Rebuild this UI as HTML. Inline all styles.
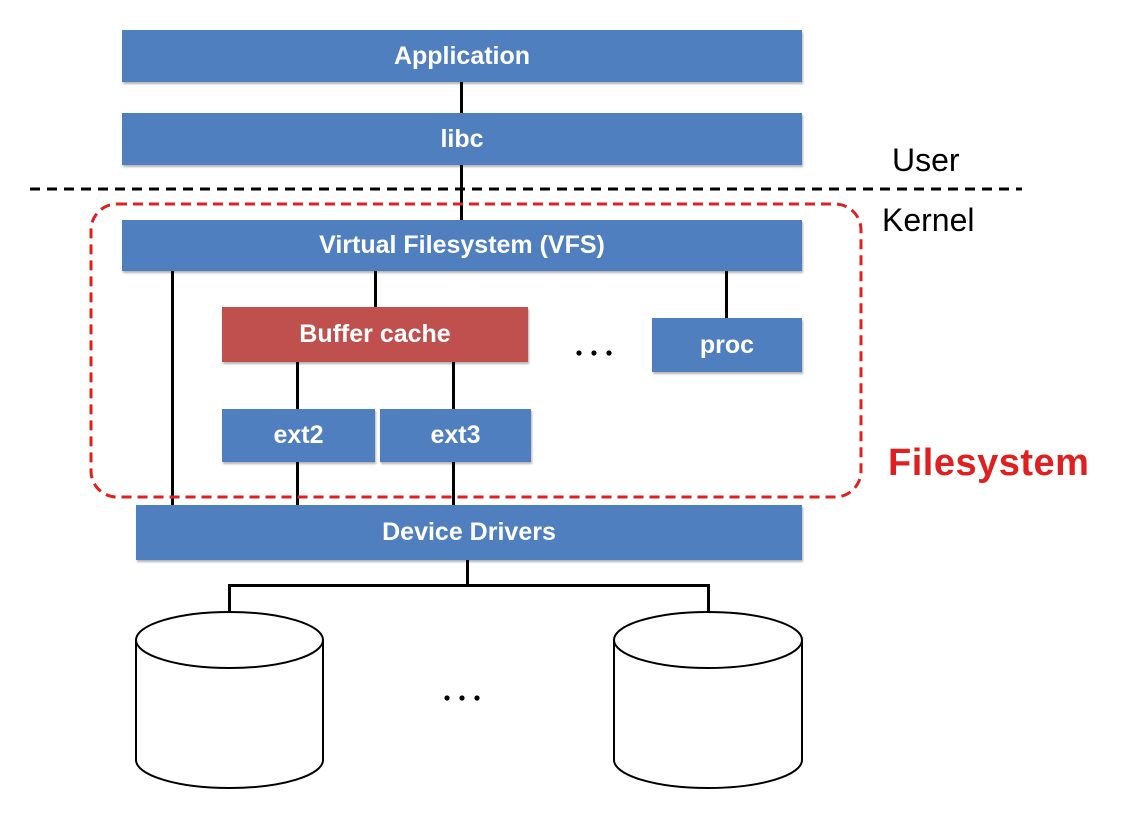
<!DOCTYPE html>
<html><head><style>
body{margin:0;width:1132px;height:822px;background:#fff;position:relative;overflow:hidden;font-family:"Liberation Sans",sans-serif}
.b{position:absolute;background:#4f7fbf;color:#fff;font-weight:bold;font-size:25px;display:flex;align-items:center;justify-content:center;box-shadow:1px 2px 2px rgba(0,0,0,.3)}
.l{position:absolute;background:#000}
</style></head><body>
<div class="l" style="left:460px;top:82px;width:3px;height:138px"></div>
<div class="l" style="left:171px;top:271px;width:3px;height:234px"></div>
<div class="l" style="left:374px;top:271px;width:3px;height:36px"></div>
<div class="l" style="left:725px;top:271px;width:3px;height:47px"></div>
<div class="l" style="left:296px;top:362px;width:3px;height:143px"></div>
<div class="l" style="left:452px;top:362px;width:3px;height:143px"></div>
<div class="l" style="left:466px;top:560px;width:3px;height:26px"></div>
<div class="l" style="left:228px;top:584px;width:482px;height:3px"></div>
<div class="l" style="left:228px;top:584px;width:3px;height:30px"></div>
<div class="l" style="left:707px;top:584px;width:3px;height:30px"></div>
<svg style="position:absolute;left:0;top:0" width="1132" height="822">
<line x1="30" y1="189" x2="1022" y2="189" stroke="#000" stroke-width="3" stroke-dasharray="10,7"/>
<rect x="91" y="204" width="770" height="293" rx="26" fill="none" stroke="#e02020" stroke-width="3" stroke-dasharray="10,6"/>
<g fill="#fff" stroke="#000" stroke-width="2">
<path d="M136 640 L136 760 A93.5 28 0 0 0 323 760 L323 640"/>
<ellipse cx="229.5" cy="640" rx="93.5" ry="28"/>
<path d="M614 640 L614 760 A94 28 0 0 0 802 760 L802 640"/>
<ellipse cx="708" cy="640" rx="94" ry="28"/>
</g>
<g fill="#000"><circle cx="579" cy="353" r="2.6"/><circle cx="594" cy="353" r="2.6"/><circle cx="609" cy="353" r="2.6"/>
<circle cx="447" cy="698" r="2.6"/><circle cx="462" cy="698" r="2.6"/><circle cx="477" cy="698" r="2.6"/></g>
</svg>
<div class="b" style="left:122px;top:30px;width:680px;height:52px">Application</div>
<div class="b" style="left:122px;top:113px;width:680px;height:52px">libc</div>
<div class="b" style="left:122px;top:220px;width:680px;height:51px">Virtual Filesystem (VFS)</div>
<div class="b" style="left:222px;top:307px;width:306px;height:55px;background:#c0504d">Buffer cache</div>
<div class="b" style="left:222px;top:409px;width:153px;height:53px">ext2</div>
<div class="b" style="left:380px;top:409px;width:151px;height:53px">ext3</div>
<div class="b" style="left:652px;top:318px;width:150px;height:54px">proc</div>
<div class="b" style="left:136px;top:505px;width:666px;height:55px">Device Drivers</div>
<div style="position:absolute;left:892px;top:142px;font-size:32px">User</div>
<div style="position:absolute;left:882px;top:202px;font-size:32px">Kernel</div>
<div style="position:absolute;left:888px;top:442px;font-size:38px;font-weight:bold;color:#e02020;letter-spacing:0.5px">Filesystem</div>
</body></html>
